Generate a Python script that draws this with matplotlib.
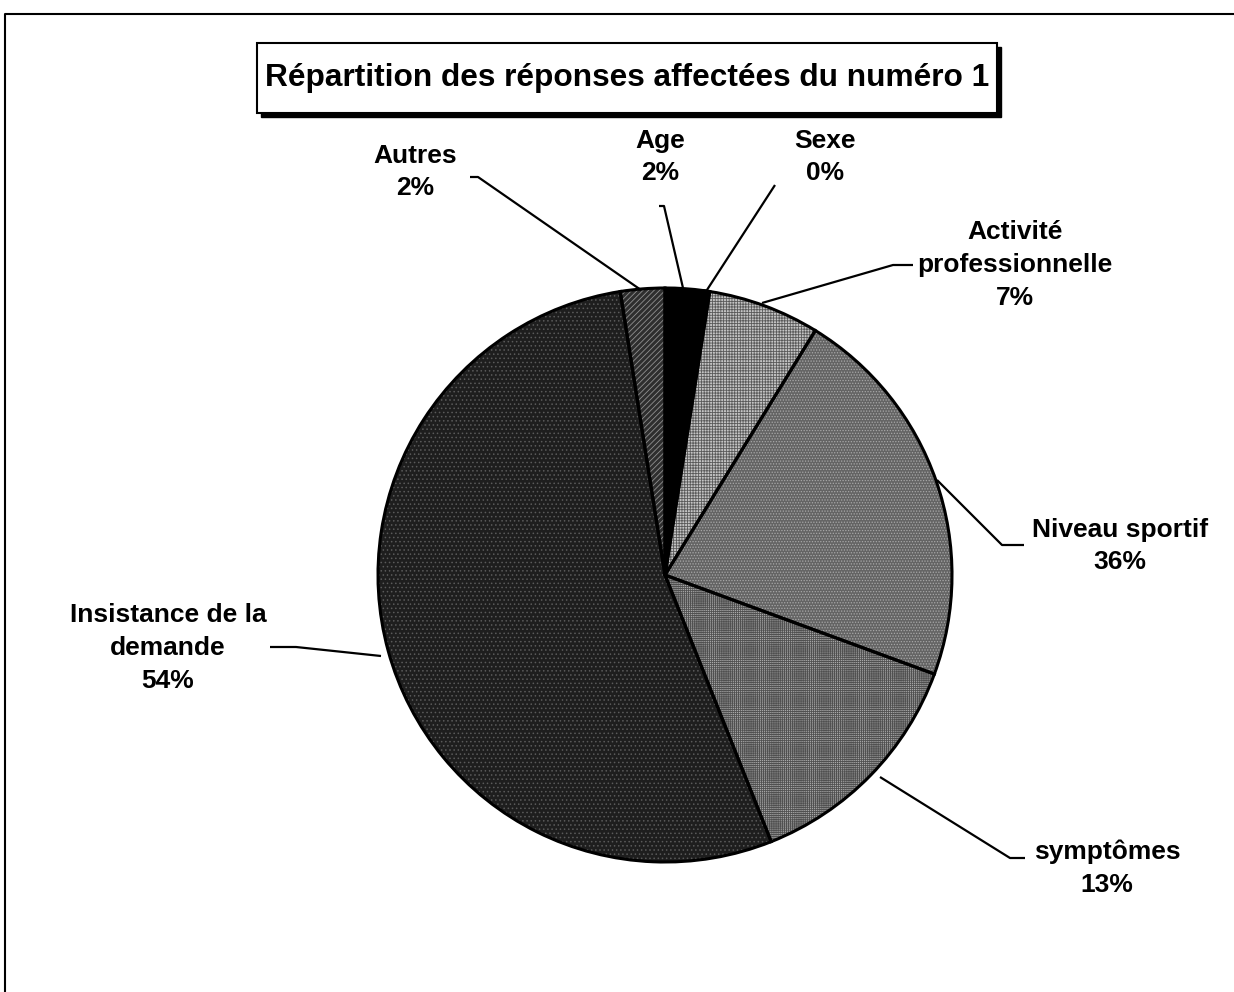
import matplotlib.pyplot as plt
from matplotlib.patches import Rectangle, Wedge

plt.rcParams['font.family'] = ['Liberation Sans', 'DejaVu Sans']
plt.rcParams['hatch.linewidth'] = 0.6

# slice data (clockwise from top)
categories = ['Age', 'Sexe', 'Activité\nprofessionnelle', 'Niveau sportif',
              'symptômes', 'Insistance de la\ndemande', 'Autres']
values = [2.2, 0.3, 6.3, 21.9, 13.4, 53.7, 2.5]
pct_labels = ['2%', '0%', '7%', '36%', '13%', '54%', '2%']

faces = ['#000000', '#000000', '#c4c4c4', '#646464', '#a8a8a8', '#1e1e1e', '#2e2e2e']
hatches = [None, None, '++++++', '......', '++++++++', '....', '//////']
hatch_cols = ['#000000', '#000000', '#5a5a5a', '#a8a8a8', '#505050', '#5a5a5a', '#909090']

# label text positions and leader lines (pixel coords, y down)
label_pos = [(660, 157), (825, 157), (1015, 265), (1120, 546),
             (1107, 868), (168, 648), (415, 172)]
leaders = [
    [(659, 206), (664, 206), (683, 288)],
    [(775, 185), (705, 293)],
    [(913, 265), (893, 265), (762, 303)],
    [(1024, 545), (1002, 545), (937, 480)],
    [(1025, 858), (1010, 858), (880, 777)],
    [(270, 647), (296, 647), (381, 656)],
    [(470, 177), (478, 177), (641, 290)],
]

W, H = 1234, 992
fig = plt.figure(figsize=(W / 100, H / 100), dpi=100)
ax = fig.add_axes([0, 0, 1, 1])

cx, cy, r = 665, H - 575, 287

# fill with hatches
wedges, _ = ax.pie(values, startangle=90, counterclock=False, center=(cx, cy),
                   radius=r, colors=faces, frame=True)
for w, hc, hcol in zip(wedges, hatches, hatch_cols):
    w.set_edgecolor(hcol)
    w.set_linewidth(0)
    if hc:
        w.set_hatch(hc)
# black outlines on top
for w in wedges:
    ow = Wedge(w.center, w.r, w.theta1, w.theta2, facecolor='none',
               edgecolor='black', linewidth=2.2, zorder=3)
    ax.add_patch(ow)
ax.set_xlim(0, W)
ax.set_ylim(0, H)
ax.set_aspect('equal')
ax.axis('off')

for cat, pct, (lx, ly), pts in zip(categories, pct_labels, label_pos, leaders):
    ax.text(lx, H - ly, cat + '\n' + pct, ha='center', va='center',
            fontsize=19, fontweight='bold', linespacing=1.45)
    ax.plot([p[0] for p in pts], [H - p[1] for p in pts], color='black', lw=1.6,
            solid_capstyle='butt')

# outer frame (left and top edges)
ax.plot([5, 5, W], [0, H - 14, H - 14], color='black', lw=1.5)

# title box with shadow
ax.add_patch(Rectangle((261, H - 117), 740, 70, facecolor='black', edgecolor='black', zorder=4))
ax.add_patch(Rectangle((257, H - 113), 740, 70, facecolor='white', edgecolor='black',
                       linewidth=1.5, zorder=5))
ax.text(627, H - 78, 'Répartition des réponses affectées du numéro 1', ha='center',
        va='center', fontsize=22.8, fontweight='bold', zorder=6)

fig.savefig('out.png', dpi=100)
